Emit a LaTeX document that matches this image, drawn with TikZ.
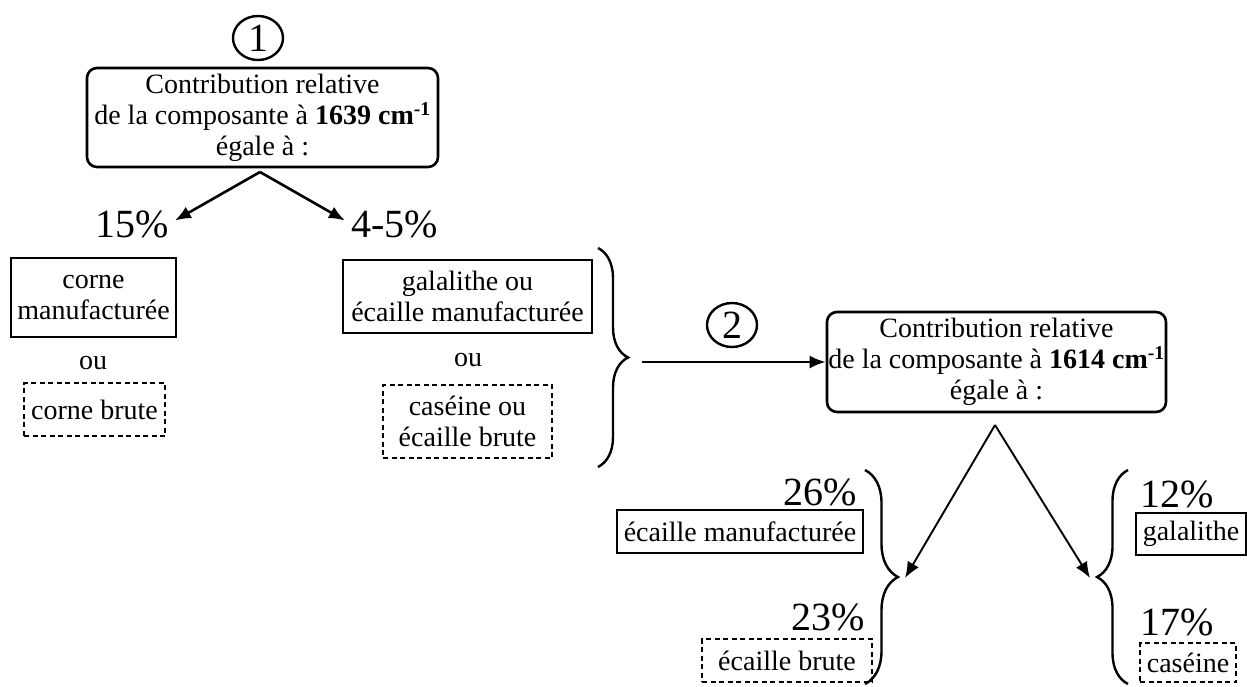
\documentclass[tikz,border=0pt]{standalone}
\usepackage{fontspec}
\setmainfont{Liberation Serif}
\usetikzlibrary{arrows.meta,shapes.geometric,decorations.pathreplacing}

\tikzset{
  plain/.style={draw,line width=2.8pt,inner sep=0pt,align=center},
  brut/.style={draw,line width=2.6pt,dash pattern=on 5pt off 3.5pt,inner sep=0pt,align=center},
  contrib/.style={draw,line width=2.6pt,rounded corners=10pt,inner sep=0pt,align=center},
  pct/.style={inner sep=0pt,font=\fontsize{40}{44}\selectfont},
  num/.style={ellipse,draw,line width=2.4pt,inner sep=0pt,minimum width=50pt,minimum height=44pt,font=\fontsize{40}{44}\selectfont},
  arr/.style={-{Latex[length=16pt,width=13pt]},line width=2.6pt},
  accol/.style={decorate,decoration={brace,amplitude=#1},line width=2.4pt}
}

\begin{document}
\begin{tikzpicture}[x=1pt,y=-1pt,font=\fontsize{28}{31}\selectfont]
    \useasboundingbox (0,0) rectangle (1247,686);
    % first step: band at 1639
    \node[num] (n1) at (258,38) {1};
    \node[contrib,minimum width=351pt,minimum height=99pt] (b1) at (262.5,117.5)
      {Contribution relative\\de la composante à \textbf{1639 cm\textsuperscript{-1}}\\égale à :};
    \coordinate (top1) at (260,172);
    \node[pct,anchor=base] (p15) at (132,237) {15\%};
    \node[pct,anchor=base west] (p45) at (351,237) {4-5\%};
    \draw[arr,shorten >=7pt] (top1) -- (p15.east);
    \draw[arr,shorten >=7pt] (top1) -- (p45.west);
    % left column
    \node[plain,minimum width=165pt,minimum height=79pt] (c1) at (93.5,297.5) {corne\\manufacturée};
    \node (o1) at (93,363) {ou};
    \node[brut,minimum width=141pt,minimum height=53pt] (d1) at (94.5,409.5) {corne brute};
    % right column
    \node[plain,minimum width=249pt,minimum height=73pt] (g1) at (467.5,296.5) {galalithe ou\\écaille manufacturée};
    \node (o2) at (468,360) {ou};
    \node[brut,minimum width=169pt,minimum height=73pt] (d2) at (467.5,421.5) {caséine ou\\écaille brute};
    \draw[accol=30] (598,248) -- (598,467);
    % second step: band at 1614
    \node[num] (n2) at (732,325) {2};
    \node[contrib,minimum width=339pt,minimum height=100pt] (b2) at (996.5,362)
      {Contribution relative\\de la composante à \textbf{1614 cm\textsuperscript{-1}}\\égale à :};
    \coordinate (s2) at (642,362);
    \draw[arr] (s2) -- (b2.west);
    \coordinate (top2) at (995,425);
    \coordinate (kl) at (905,578);
    \coordinate (kr) at (1090,578);
    \draw[arr,line width=1.9pt] (top2) -- (kl);
    \draw[arr,line width=1.9pt] (top2) -- (kr);
    % results, left
    \node[pct,anchor=base east] (p26) at (857,505) {26\%};
    \node[plain,minimum width=246pt,minimum height=43pt] (e1) at (740,531.5) {écaille manufacturée};
    \node[pct,anchor=base east] (p23) at (865,630) {23\%};
    \node[brut,line width=1.8pt,minimum width=170pt,minimum height=43pt] (e2) at (787,660.5) {écaille brute};
    \draw[accol=33] (865,470) -- (865,684);
    % results, right
    \node[pct,anchor=base west] (p12) at (1140,507) {12\%};
    \node[plain,minimum width=110pt,minimum height=42pt] (g2) at (1191,534) {galalithe};
    \node[pct,anchor=base west] (p17) at (1140,635) {17\%};
    \node[brut,minimum width=96pt,minimum height=39pt] (c2) at (1188,662.5) {caséine};
    \draw[accol=31] (1128,684) -- (1128,470);
\end{tikzpicture}
\end{document}
